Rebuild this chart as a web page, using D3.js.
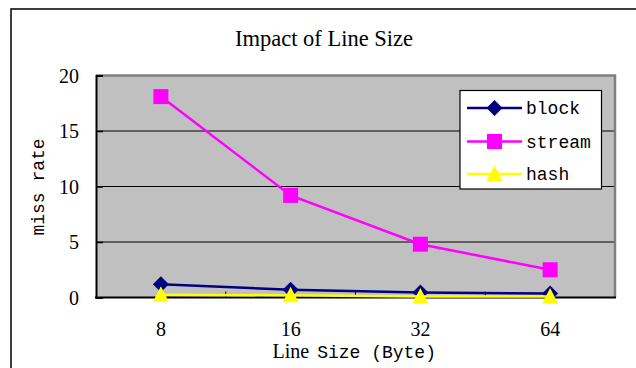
<!DOCTYPE html>
<html>
<head>
<meta charset="utf-8">
<script src="https://cdn.jsdelivr.net/npm/d3@7"></script>
<style>
  html, body { margin: 0; padding: 0; background: #fff; }
  svg { display: block; }
</style>
</head>
<body>
<svg id="chart" width="636" height="368"></svg>
<script>
// Line sizes (bytes) and miss rates per benchmark
const lineSizes = ["8", "16", "32", "64"];
const blockRate = [1.2, 0.7, 0.45, 0.35];
const streamRate = [18.1, 9.2, 4.8, 2.5];
const hashRate = [0.25, 0.2, 0.1, 0.1];
const yTicks = [0, 5, 10, 15, 20];
const seriesNames = ["block", "stream", "hash"];

const series = [
  { name: seriesNames[0], values: blockRate, color: "#000080", shape: "diamond" },
  { name: seriesNames[1], values: streamRate, color: "#FF00FF", shape: "square" },
  { name: seriesNames[2], values: hashRate, color: "#FFFF00", shape: "triangle" }
];

const svg = d3.select("#chart");
const plot = { left: 96, top: 75.5, right: 615, bottom: 297.5 };
const serif = "'Liberation Serif', 'Times New Roman', serif";
const mono = "'Liberation Mono', 'Courier New', monospace";

// outer chart frame
svg.append("rect")
  .attr("x", 11).attr("y", 9).attr("width", 640).attr("height", 380)
  .attr("fill", "#fff").attr("stroke", "#000").attr("stroke-width", 1.5);

const x = d3.scaleBand().domain(lineSizes).range([plot.left, plot.right]).padding(0);
const y = d3.scaleLinear().domain([0, 20]).range([plot.bottom, plot.top]);
const cx = d => x(d) + x.bandwidth() / 2;

// plot background
svg.append("rect")
  .attr("x", plot.left).attr("y", plot.top)
  .attr("width", plot.right - plot.left).attr("height", plot.bottom - plot.top)
  .attr("fill", "#C0C0C0");

// gridlines
svg.append("g").selectAll("line")
  .data(yTicks.filter(t => t > 0 && t < 20))
  .join("line")
  .attr("x1", plot.left).attr("x2", plot.right)
  .attr("y1", d => y(d)).attr("y2", d => y(d))
  .attr("stroke", "#000").attr("stroke-width", 1);

// plot frame: grey top and right edges
svg.append("path")
  .attr("d", `M${plot.left},${plot.top}H${plot.right}V${plot.bottom}`)
  .attr("fill", "none").attr("stroke", "#808080").attr("stroke-width", 2.5);

// y axis with inward ticks
const yAxis = d3.axisRight(y).tickValues(yTicks).tickSize(7).tickFormat("");
const yg = svg.append("g").attr("transform", `translate(${plot.left},0)`).call(yAxis);
yg.select(".domain").attr("stroke", "#000").attr("stroke-width", 2);
yg.selectAll(".tick line").attr("stroke", "#000").attr("stroke-width", 1.5);

// y tick labels
svg.append("g").selectAll("text")
  .data(yTicks)
  .join("text")
  .attr("x", 79).attr("y", d => y(d) + 7)
  .attr("text-anchor", "end")
  .attr("font-family", serif).attr("font-size", 20)
  .text(d => d);

// x axis: ticks at band boundaries pointing up
const xBounds = lineSizes.map(d => x(d)).concat([plot.right]);
const xg = svg.append("g");
xg.selectAll("line.tick")
  .data(xBounds.slice(1, -1))
  .join("line")
  .attr("x1", d => d).attr("x2", d => d)
  .attr("y1", plot.bottom).attr("y2", plot.bottom - 6)
  .attr("stroke", "#000").attr("stroke-width", 1);
xg.append("line")
  .attr("x1", plot.left - 1).attr("x2", plot.right + 1)
  .attr("y1", plot.bottom).attr("y2", plot.bottom)
  .attr("stroke", "#000").attr("stroke-width", 2);

svg.append("g").selectAll("text")
  .data(lineSizes)
  .join("text")
  .attr("x", d => cx(d)).attr("y", 336)
  .attr("text-anchor", "middle")
  .attr("font-family", serif).attr("font-size", 20)
  .text(d => d);

// marker shapes
function marker(g, shape, color, px, py) {
  if (shape === "diamond") {
    g.append("path")
      .attr("d", `M${px},${py - 8}L${px + 8},${py}L${px},${py + 8}L${px - 8},${py}Z`)
      .attr("fill", color);
  } else if (shape === "square") {
    g.append("rect")
      .attr("x", px - 7.5).attr("y", py - 7.5).attr("width", 15).attr("height", 15)
      .attr("fill", color);
  } else {
    g.append("path")
      .attr("d", `M${px},${py - 8.5}L${px + 8},${py + 7}L${px - 8},${py + 7}Z`)
      .attr("fill", color);
  }
}

// series lines and markers
const line = d3.line().x((d, i) => cx(lineSizes[i])).y(d => y(d));
series.forEach(s => {
  const g = svg.append("g");
  g.append("path")
    .attr("d", line(s.values))
    .attr("fill", "none").attr("stroke", s.color).attr("stroke-width", 2.5);
  s.values.forEach((v, i) => marker(g, s.shape, s.color, cx(lineSizes[i]), y(v)));
});

// legend
const lg = svg.append("g");
lg.append("rect")
  .attr("x", 460).attr("y", 90.5).attr("width", 141.5).attr("height", 98.5)
  .attr("fill", "#fff").attr("stroke", "#000").attr("stroke-width", 1.2);
const legendY = [108, 141.5, 174];
series.forEach((s, i) => {
  const ly = legendY[i];
  lg.append("line")
    .attr("x1", 467).attr("x2", 522).attr("y1", ly).attr("y2", ly)
    .attr("stroke", s.color).attr("stroke-width", 2.5);
  marker(lg, s.shape, s.color, 494.5, ly);
  lg.append("text")
    .attr("x", 526).attr("y", ly + 6)
    .attr("font-family", mono).attr("font-size", 18)
    .text(s.name);
});

// title
svg.append("text")
  .attr("x", 324).attr("y", 46)
  .attr("text-anchor", "middle")
  .attr("font-family", serif).attr("font-size", 22.5)
  .text("Impact of Line Size");

// axis titles
const xt = svg.append("text")
  .attr("x", 272.5).attr("y", 358);
xt.append("tspan").attr("font-family", serif).attr("font-size", 20).text("Line");
xt.append("tspan").attr("font-family", mono).attr("font-size", 18).attr("dx", 8).text("Size (Byte)");

svg.append("text")
  .attr("transform", "translate(44,187) rotate(-90)")
  .attr("text-anchor", "middle")
  .attr("font-family", mono).attr("font-size", 18)
  .text("miss rate");
</script>
</body>
</html>
